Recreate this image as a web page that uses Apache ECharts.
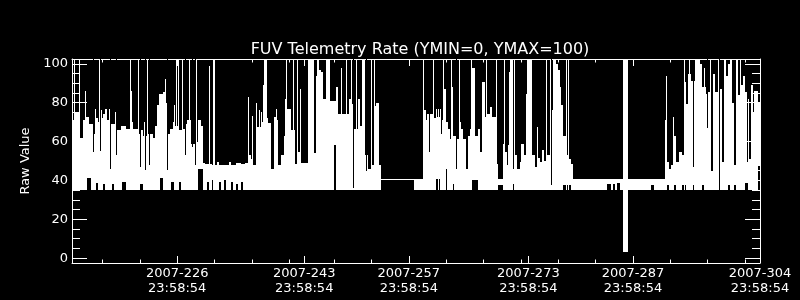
<!DOCTYPE html>
<html>
<head>
<meta charset="utf-8">
<script src="https://cdn.jsdelivr.net/npm/echarts@6/dist/echarts.min.js"></script>
<style>
html,body{margin:0;padding:0;background:#000;}
#chart{width:800px;height:300px;}
</style>
</head>
<body>
<div id="chart"></div>
<script>
// ---- data (x in day-of-year 2007) ----
const titleText = 'FUV Telemetry Rate (YMIN=0, YMAX=100)';
const yName = 'Raw Value';
const xMin = 211.92;
const xMax = 304.0;
const yMin = -2.5;
const yMax = 102.5;
const tickDays = [226, 243, 257, 273, 287, 304];
const tickLabels = ['2007-226\n23:58:54', '2007-243\n23:58:54', '2007-257\n23:58:54',
                    '2007-273\n23:58:54', '2007-287\n23:58:54', '2007-304\n23:58:54'];
const minorDays = [216, 221, 226, 231, 236, 241, 247, 252, 257, 262, 267, 272, 277, 282, 287, 292, 297, 302];
const yMajor = [0, 20, 40, 60, 80, 100];
const yMinor = [5, 10, 15, 25, 30, 35, 45, 50, 55, 65, 70, 75, 85, 90, 95];

// envelope segments: start day, upper value, lower value
const segStart = [211.92,212.32,212.99,213.35,213.66,213.93,214.24,214.47,214.77,215.13,
  215.44,215.76,215.93,216.11,216.33,216.56,216.91,217.09,217.23,217.54,
  217.71,217.98,218.43,218.61,219.14,219.67,220.12,220.79,221.01,221.45,
  221.91,222.79,223.06,223.33,223.59,223.69,224.05,224.13,224.36,224.58,
  225.02,225.16,225.46,225.56,225.73,226.13,226.49,226.59,227.03,227.34,
  227.79,228.37,228.81,229.13,229.40,229.70,229.97,230.24,230.64,230.91,
  231.31,231.58,231.84,232.24,232.51,232.91,233.18,233.45,233.85,234.12,
  234.52,234.78,235.05,235.45,235.85,236.16,236.61,237.28,237.50,237.63,
  237.99,238.17,238.53,238.97,239.29,239.50,239.86,240.49,240.76,241.20,
  241.74,242.18,242.63,243.52,244.32,244.51,244.77,244.95,245.21,245.52,
  245.88,246.46,246.99,247.26,247.53,248.96,249.40,249.67,250.20,250.43,
  250.73,251.19,251.54,251.90,252.43,252.66,252.97,253.23,257.69,258.89,
  259.25,259.43,259.70,259.88,260.32,260.59,260.76,261.22,261.48,261.66,
  261.93,262.10,262.24,262.46,262.73,262.90,263.04,263.36,263.80,264.03,
  264.24,264.70,264.91,265.13,265.36,265.49,265.80,266.24,266.57,266.83,
  267.14,267.45,267.90,268.17,268.79,268.92,269.59,269.86,270.12,270.39,
  270.58,270.93,271.15,271.46,271.82,272.05,272.36,272.62,272.80,273.47,
  273.83,274.14,274.59,274.86,275.03,275.39,275.83,276.27,276.73,276.94,
  277.17,277.39,277.61,277.97,278.28,278.73,278.95,283.55,284.08,284.30,
  284.62,284.89,285.29,285.64,286.40,289.43,289.78,291.30,291.44,291.57,
  291.79,292.11,292.37,292.78,293.21,293.52,293.79,294.15,294.42,294.78,
  295.05,295.31,295.93,296.20,296.47,296.79,297.09,297.45,297.67,297.99,
  298.34,298.66,298.96,299.23,299.46,299.68,300.04,300.21,300.48,300.80,
  301.01,301.28,301.47,301.68,302.00,302.27,302.44,302.58,302.80,303.02,
  303.25,303.69];
const segHigh = [71,75,62,71,72.5,72.5,69,69,64,72,
  70,76,72,74,77,71,72,69,69,69,
  67,66,68,68,66.5,70,66.5,64,66,63,
  64,62,68,78.6,84.6,84.6,85.5,85.5,80,64,
  66.5,66.5,70,70,68,66,66,66.5,69,71,
  59,60,71,68,49,48.5,48.5,48.5,48,48,
  49.5,48,48,48,48,49.5,48,48,49,49,
  48.5,48.5,49,53,51,48,67.5,70,89,102.5,
  72,69.5,46,72.5,71,48,53,82,77,66,
  48.5,54.5,49,102.5,54,94,102.5,97,96,82,
  102.5,81,81,88,74,82,79.5,66.5,82,68,
  102.5,53,46,48,78.5,80,48,40.8,40.5,76,
  71,74,54.5,74,72,77,72.5,64,71,87,
  70,70,66.5,61.5,88,63,63,61.5,70,66.5,
  61.5,46,63,66.5,66.5,98,63,66.5,54.5,90.5,
  72.5,74,77.7,72.5,48.5,40.5,59,54.5,48,96,
  102.5,46,53,46,49.4,59,53,84.6,102.5,53,
  47,51.5,49.4,55.7,50,53,76,102.5,100,96.6,
  88,78.6,63,53,51,48.5,40.5,40.5,40.5,40.5,
  40.5,40.5,40.5,102.5,40.5,40.5,40.5,71,49.4,49.4,
  46,48,63,49.4,54.5,53,90.5,79.5,95,91.4,
  47,102.5,100,88,88,84.6,85.4,45,95,85.4,
  48.5,87,49.4,102.5,94,100,102.5,80,48,102.5,
  84,102.5,89,94,85.4,49.4,82,51,89,75,
  86,80];
const segLow = [35,35,35,35,35,41.5,41.5,35,35,38.5,
  35,35,35,38,35,35,35,35,38,35,
  35,35,35,39,35,35,35,35,38,35,
  35,35,35,35,35,41.5,41.5,35,35,35,
  35,39,39,35,35,39,35,35,35,35,
  35,35,46,46,35,35,39,35,40,35,
  35,39,35,40,35,35,39,35,38,35,
  39,35,35,35,35,35,35,35,35,35,
  35,35,35,35,35,35,35,35,35,35,
  35,35,35,35,35,35,35,35,35,35,
  35,35,58,35,35,35,35,35,35,35,
  35,35,35,35,35,35,35,40.2,35,35,
  35,35,35,35,35,40.8,40.8,35,35,35,
  46,35,35,35,35,38,35,35,35,35,
  35,35,35,35,40,40,40,35,35,35,
  35,35,35,35,35,37.5,35,35,35,35,
  35,38,35,35,35,35,35,35,35,35,
  35,35,35,35,35,35,35,35,35,35,
  35,35,37.5,37.5,37.5,35,35,38,35,38,
  35,38.5,35,3.3,35,37.5,35,35,35,37.5,
  35,35,37.5,35,35,37.5,37.5,35,35,35,
  37.5,35,35,37.5,35,35,35,35,35,35,
  40,35,35,35,35,37.5,35,35,37.5,35,
  35,35,35,35,38.5,38.5,35,35,35,35,
  35,47.6];
const dataEnd = 304.0;

// isolated single-sample spikes: day, peak value
const spikeDay = [212.19,212.90,213.66,215.00,215.57,216.91,217.71,219.67,219.85,220.74,
  221.55,221.91,224.40,225.60,225.83,226.05,226.59,227.60,228.50,230.28,
  230.73,230.91,235.41,236.03,236.48,236.92,237.19,239.16,240.31,240.57,
  241.56,242.00,242.41,247.98,248.65,249.22,249.99,251.90,252.34,258.95,
  260.19,260.95,261.12,261.56,262.69,263.71,265.36,267.37,268.61,269.78,
  270.31,271.02,274.14,275.34,275.93,277.97,278.28,291.48,292.37,293.79,
  294.55,295.12,296.55,296.91,297.36,298.43];
const spikeTop = [102.5,102.5,86,77,102.5,77,75,102.5,86,102.5,
  70,102.5,92,79,102.5,102.5,102.5,102.5,102.5,99,
  102.5,102.5,83,73,80,76.5,75,77,63,102.5,
  102.5,102.5,87,98,102.5,102.5,102.5,102.5,102.5,102.5,
  102.5,77,77,102.5,102.5,102.5,102.5,102.5,102.5,102.5,
  58,102.5,67.5,102.5,102.5,102.5,102.5,94,72.5,102.5,
  102.5,91,98,67,102.5,102.5];
const spikeBase = 35;

// isolated single-sample dips: day, dip value
const dipDay = [214.77, 215.66, 217.00, 217.80, 221.01, 221.68, 222.26, 224.66, 227.03, 228.00,
  228.37, 249.53, 251.23, 263.30, 276.06, 296.95, 298.56];
const dipValue = [54.5, 55, 46, 53, 47, 45.5, 48, 45.5, 53, 57,
  48, 36, 45, 46, 37.5, 37.5, 40];

// ---- chart ----
const FONT = 'DejaVu Sans';
const WHITE = '#ffffff';
const BLACK = '#000000';
const chart = echarts.init(document.getElementById('chart'), null, {renderer: 'canvas'});

const segData = segStart.map((s, i) => [s, i < segStart.length - 1 ? segStart[i + 1] : dataEnd, segLow[i], segHigh[i]]);
const spikeData = spikeDay.map((d, i) => [d, spikeBase, spikeTop[i]]);
const dipData = dipDay.map((d, i) => [d, dipValue[i], yMax]);

function renderSeg(params, api) {
  const p0 = api.coord([api.value(0), api.value(3)]);
  const p1 = api.coord([api.value(1), api.value(2)]);
  const x0 = Math.round(p0[0]), x1 = Math.round(p1[0]);
  const y0 = Math.round(p0[1]), y1 = Math.round(p1[1]);
  return {type: 'rect', shape: {x: x0, y: y0, width: Math.max(1, x1 - x0), height: Math.max(1, y1 - y0)},
          style: {fill: WHITE}};
}
function makeLineRenderer(color) {
  return function (params, api) {
    const pt = api.coord([api.value(0), api.value(2)]);
    const pb = api.coord([api.value(0), api.value(1)]);
    const x = Math.round(pt[0]);
    const y0 = Math.round(pt[1]), y1 = Math.round(pb[1]);
    return {type: 'rect', shape: {x: x, y: y0, width: 1, height: Math.max(1, y1 - y0)}, style: {fill: color}};
  };
}

function xAxisDef(pos, major) {
  return {
    type: 'value', min: xMin, max: xMax, position: pos,
    axisLine: {show: major, onZero: false, lineStyle: {color: WHITE, width: 1}},
    axisTick: {show: true, inside: true, length: major ? 7 : 3.5,
               customValues: major ? tickDays : minorDays, lineStyle: {color: WHITE, width: 1}},
    axisLabel: (major && pos === 'bottom') ? {
      show: true, customValues: tickDays, color: WHITE, fontFamily: FONT, fontSize: 13,
      lineHeight: 15, margin: 3, align: 'center',
      formatter: v => { const i = tickDays.findIndex(d => Math.abs(d - v) < 1e-6); return i >= 0 ? tickLabels[i] : ''; }
    } : {show: false},
    splitLine: {show: false}
  };
}
function yAxisDef(pos, major) {
  const a = {
    type: 'value', min: yMin, max: yMax, position: pos,
    axisLine: {show: major, onZero: false, lineStyle: {color: WHITE, width: 1}},
    axisTick: {show: true, inside: true, length: major ? 15 : 8,
               customValues: major ? yMajor : yMinor, lineStyle: {color: WHITE, width: 1}},
    axisLabel: (major && pos === 'left') ? {
      show: true, customValues: yMajor, color: WHITE, fontFamily: FONT, fontSize: 13, margin: 4
    } : {show: false},
    splitLine: {show: false}
  };
  if (major && pos === 'left') {
    a.name = yName;
    a.nameLocation = 'middle';
    a.nameGap = 37;
    a.nameTextStyle = {color: WHITE, fontFamily: FONT, fontSize: 13};
  }
  return a;
}

chart.setOption({
  backgroundColor: BLACK,
  animation: false,
  title: {
    text: titleText, left: 415, top: 37, textAlign: 'center',
    textStyle: {color: WHITE, fontFamily: FONT, fontSize: 16, fontWeight: 'normal'}
  },
  grid: {left: 72, right: 40, top: 59, bottom: 37, containLabel: false},
  xAxis: [xAxisDef('bottom', true), xAxisDef('bottom', false), xAxisDef('top', true), xAxisDef('top', false)],
  yAxis: [yAxisDef('left', true), yAxisDef('left', false), yAxisDef('right', true), yAxisDef('right', false)],
  series: [
    {type: 'custom', name: 'envelope', xAxisIndex: 0, yAxisIndex: 0, silent: true, clip: true,
     renderItem: renderSeg, encode: {x: [0, 1], y: [2, 3]}, data: segData},
    {type: 'custom', name: 'dips', xAxisIndex: 0, yAxisIndex: 0, silent: true, clip: true,
     renderItem: makeLineRenderer(BLACK), encode: {x: 0, y: [1, 2]}, data: dipData},
    {type: 'custom', name: 'spikes', xAxisIndex: 0, yAxisIndex: 0, silent: true, clip: true,
     renderItem: makeLineRenderer(WHITE), encode: {x: 0, y: [1, 2]}, data: spikeData}
  ]
});
</script>
</body>
</html>
